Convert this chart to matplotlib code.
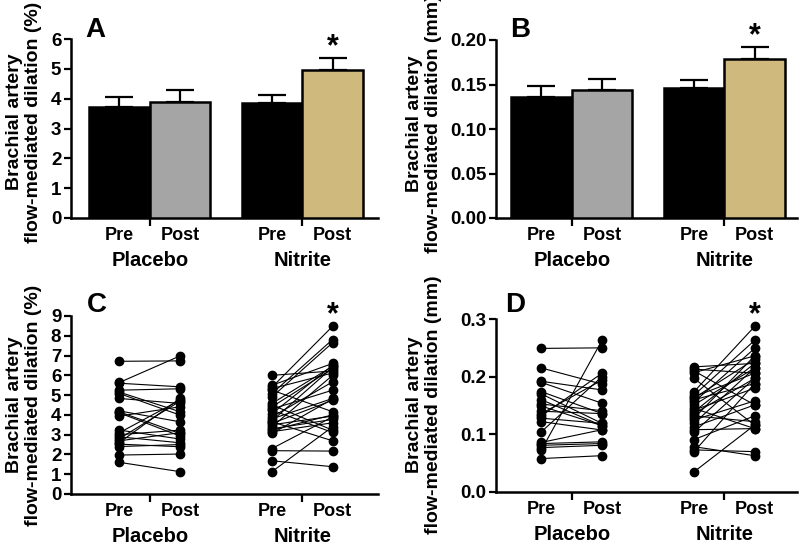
import matplotlib
matplotlib.use("Agg")
import matplotlib.pyplot as plt
from matplotlib.ticker import FixedLocator, FormatStrFormatter

plt.rcParams['font.family'] = ['Liberation Sans', 'DejaVu Sans']
plt.rcParams['font.weight'] = 'bold'

# ---------------- data ----------------
conditions = ["Pre", "Post", "Pre", "Post"]
groups = ["Placebo", "Nitrite"]

fmd_pct_mean = [3.72, 3.90, 3.87, 4.97]
fmd_pct_sem = [0.32, 0.38, 0.24, 0.39]
fmd_mm_mean = [0.136, 0.144, 0.146, 0.179]
fmd_mm_sem = [0.012, 0.012, 0.009, 0.013]

placebo_pct_pre = [6.71, 5.64, 5.60, 5.25, 5.15, 5.08, 4.83, 4.20, 4.15, 4.10, 3.94,
                   3.23, 3.10, 3.00, 2.89, 2.80, 2.69, 2.60, 2.52, 2.40, 1.97, 1.60]
placebo_pct_post = [6.73, 6.98, 5.42, 5.32, 4.16, 3.99, 4.58, 3.65, 3.06, 2.93, 4.41,
                    2.78, 4.75, 3.23, 2.59, 4.69, 3.10, 4.83, 2.39, 2.50, 2.02, 1.13]
nitrite_pct_pre = [6.00, 5.50, 5.40, 5.33, 5.25, 5.08, 4.91, 4.58, 4.50, 4.41, 4.30, 4.24,
                   4.07, 3.90, 3.80, 3.70, 3.65, 3.57, 3.50, 3.40, 3.30, 3.23, 3.15, 3.06,
                   2.30, 2.19, 1.68, 1.13]
nitrite_pct_post = [6.22, 6.60, 8.48, 6.12, 4.16, 7.81, 7.65, 6.46, 3.23, 6.34, 5.25, 3.11,
                    6.50, 5.67, 4.83, 6.40, 2.69, 4.74, 3.94, 6.00, 3.77, 4.00, 3.60, 4.80,
                    3.90, 2.17, 1.38, 3.40]

placebo_mm_pre = [0.249, 0.215, 0.192, 0.190, 0.174, 0.170, 0.1525, 0.149, 0.136, 0.132,
                  0.128, 0.122, 0.1045, 0.084, 0.081, 0.077, 0.073, 0.058, 0.140, 0.160, 0.086]
placebo_mm_post = [0.250, 0.187, 0.177, 0.154, 0.136, 0.119, 0.141, 0.115, 0.194, 0.206,
                   0.119, 0.1075, 0.200, 0.087, 0.084, 0.081, 0.263, 0.063, 0.136, 0.115, 0.108]
nitrite_mm_pre = [0.217, 0.213, 0.210, 0.207, 0.197, 0.174, 0.168, 0.163, 0.160, 0.156,
                  0.151, 0.145, 0.142, 0.139, 0.136, 0.132, 0.128, 0.125, 0.119, 0.113,
                  0.108, 0.104, 0.091, 0.0785, 0.073, 0.070, 0.035, 0.165]
nitrite_mm_post = [0.223, 0.206, 0.151, 0.236, 0.116, 0.287, 0.263, 0.230, 0.188, 0.249,
                   0.215, 0.110, 0.180, 0.223, 0.197, 0.122, 0.236, 0.158, 0.215, 0.151,
                   0.110, 0.197, 0.132, 0.063, 0.070, 0.188, 0.116, 0.206]

# ---------------- layout ----------------
W, H = 800, 545
fig = plt.figure(figsize=(8, 5.45), dpi=100)

pos = [0, 1, 2.52, 3.52]
grp_pos = [0.5, 3.02]
bar_colors = ["#000000", "#a5a5a5", "#000000", "#cfb97d"]


def rect(l, r, t, b):
    return [l / W, (H - b) / H, (r - l) / W, (b - t) / H]


def style(ax, xlim, ylim, yticks, fmt=None):
    ax.set_xlim(*xlim)
    ax.set_ylim(*ylim)
    for s in ["top", "right"]:
        ax.spines[s].set_visible(False)
    for s in ["left", "bottom"]:
        ax.spines[s].set_linewidth(1.8)
    ax.set_yticks(yticks)
    if fmt:
        ax.yaxis.set_major_formatter(FormatStrFormatter(fmt))
    ax.tick_params(axis='y', length=5, width=1.6, labelsize=13.5, pad=2)
    ax.xaxis.set_major_locator(FixedLocator(grp_pos))
    ax.set_xticklabels(groups)
    ax.xaxis.set_minor_locator(FixedLocator(pos))
    ax.set_xticklabels(conditions, minor=True)
    ax.tick_params(axis='x', which='major', length=6, width=1.6, labelsize=14.5, pad=18)
    ax.tick_params(axis='x', which='minor', length=0, labelsize=13, pad=6.5)
    ax.spines['left'].set_bounds(ylim[0], yticks[-1])


def ylabel(xc, yc, unit):
    fig.text(xc / W, 1 - yc / H, "Brachial artery\nflow-mediated dilation (%s)" % unit,
             rotation=90, ha='center', va='center', multialignment='center',
             fontsize=14, fontweight='bold', linespacing=1.12)


def star(ax, x, y):
    ax.annotate("*", (x, y), xytext=(0, -3), textcoords='offset points',
                ha='center', va='bottom', fontsize=22, fontweight='bold')


# A
axA = fig.add_axes(rect(71, 378, 39, 218))
axA.bar(pos, fmd_pct_mean, width=1.0, color=bar_colors, edgecolor='black', linewidth=1.8, zorder=3)
axA.errorbar(pos, fmd_pct_mean, yerr=[[0] * 4, fmd_pct_sem], fmt='none', ecolor='black',
             elinewidth=1.6, capsize=10, capthick=1.6, zorder=2)
style(axA, (-0.80, 4.27), (0, 6), [0, 1, 2, 3, 4, 5, 6])
star(axA, pos[3], fmd_pct_mean[3] + fmd_pct_sem[3])

# B
axB = fig.add_axes(rect(496, 797, 40, 218))
axB.bar(pos, fmd_mm_mean, width=1.0, color=bar_colors, edgecolor='black', linewidth=1.8, zorder=3)
axB.errorbar(pos, fmd_mm_mean, yerr=[[0] * 4, fmd_mm_sem], fmt='none', ecolor='black',
             elinewidth=1.6, capsize=10, capthick=1.6, zorder=2)
style(axB, (-0.75, 4.22), (0, 0.20), [0, 0.05, 0.10, 0.15, 0.20], "%.2f")
star(axB, pos[3], fmd_mm_mean[3] + fmd_mm_sem[3])


def paired(ax, pre, post, xa, xb):
    for a, b in zip(pre, post):
        ax.plot([xa, xb], [a, b], color='black', lw=0.8, zorder=2)
    ax.plot([xa] * len(pre), pre, 'o', color='black', ms=6, zorder=3, clip_on=False)
    ax.plot([xb] * len(post), post, 'o', color='black', ms=6, zorder=3, clip_on=False)


# C
axC = fig.add_axes(rect(71, 378, 316, 494))
paired(axC, placebo_pct_pre, placebo_pct_post, pos[0], pos[1])
paired(axC, nitrite_pct_pre, nitrite_pct_post, pos[2], pos[3])
style(axC, (-0.80, 4.27), (0, 9), list(range(10)))
star(axC, pos[3], max(nitrite_pct_post))

# D
axD = fig.add_axes(rect(496, 797, 319, 492))
paired(axD, placebo_mm_pre, placebo_mm_post, pos[0], pos[1])
paired(axD, nitrite_mm_pre, nitrite_mm_post, pos[2], pos[3])
style(axD, (-0.75, 4.22), (0, 0.3), [0, 0.1, 0.2, 0.3], "%.1f")
star(axD, pos[3], max(nitrite_mm_post))

# y labels
ylabel(24, 122, "%")
ylabel(424, 124, "mm")
ylabel(24, 405, "%")
ylabel(424, 405, "mm")

# panel letters
for letter, x, y in [("A", 85, 37), ("B", 510, 37), ("C", 87, 312), ("D", 505, 312)]:
    fig.text(x / W, 1 - y / H, letter, fontsize=20, fontweight='bold', ha='left', va='baseline')

fig.savefig("out.png", dpi=100)
